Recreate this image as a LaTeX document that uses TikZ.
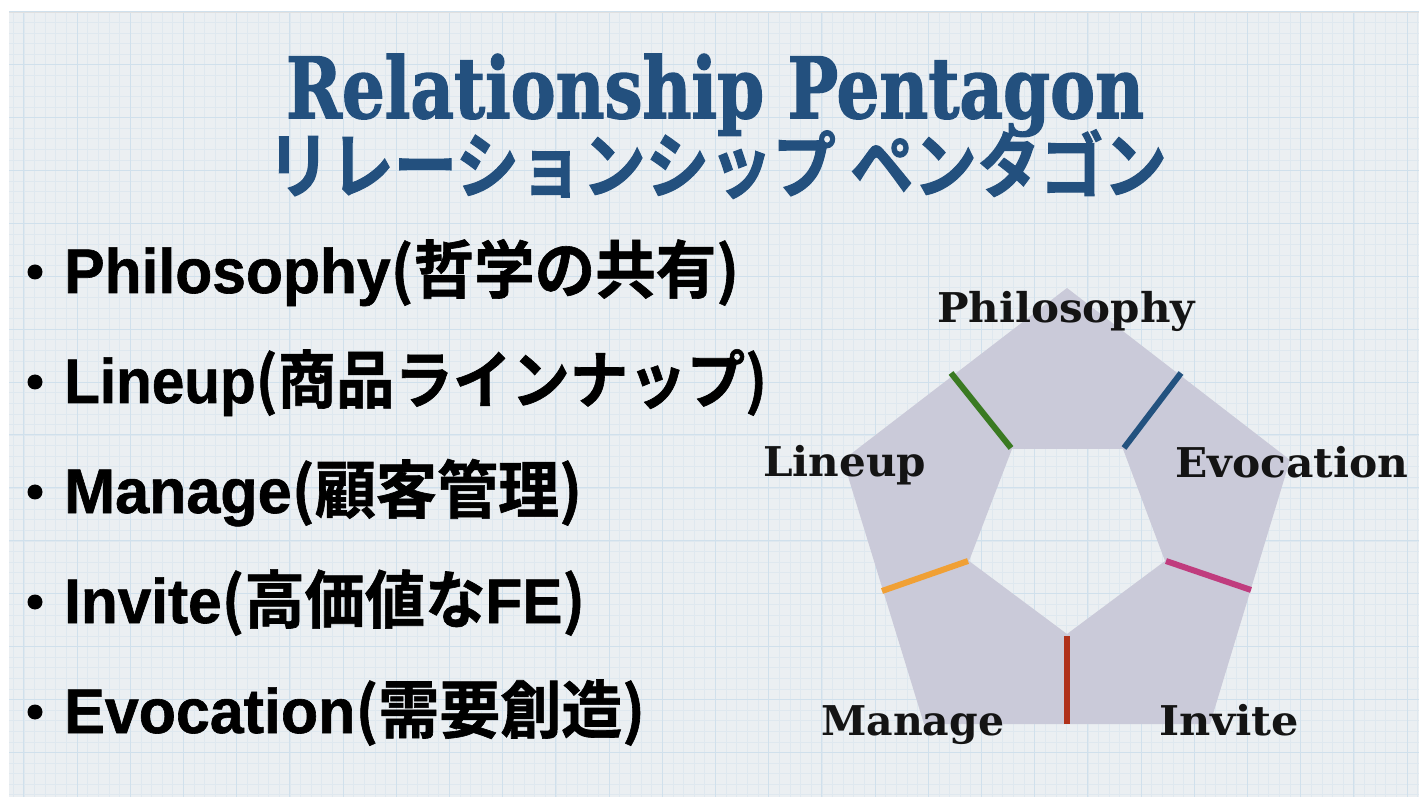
\documentclass[tikz,border=0pt]{standalone}
\usepackage{fontspec}
\usepackage{graphicx}
\setmainfont{Liberation Sans}
\newfontfamily\cjk{Noto Sans CJK JP}[BoldFont={Noto Sans CJK JP Bold}, BoldFeatures={FakeBold=1}]
\newfontfamily\cjkheavy{Noto Sans CJK JP Bold}[FakeBold=1.6]
\newfontfamily\bullatin{Liberation Sans Bold}[FakeBold=1]
\newfontfamily\titleslab{DejaVu Serif Bold}[FakeBold=1.8]
\newfontfamily\slabfont{DejaVu Serif}
\newcommand\fitto[2]{\resizebox{#1}{\height}{#2}}
\newcommand\fitbox[3]{\resizebox{#1}{#2}{#3}}
\definecolor{bgpaper}{HTML}{EBEFF2}
\definecolor{gridminor}{HTML}{DFE8EF}
\definecolor{gridmajor}{HTML}{D0E0EC}
\definecolor{titleblue}{HTML}{23507E}
\definecolor{pentfill}{HTML}{CACAD9}
\definecolor{segGreen}{HTML}{3A7A22}
\definecolor{segBlue}{HTML}{23527F}
\definecolor{segOrange}{HTML}{F0A035}
\definecolor{segMagenta}{HTML}{C03C7E}
\definecolor{segRed}{HTML}{B0311A}
\tikzset{
  bulletline/.style={anchor=base west, inner sep=0pt, font=\bullatin\fontsize{63}{63}\selectfont, text=black},
  pentlabel/.style={anchor=base west, inner sep=0pt, font=\slabfont\bfseries\fontsize{41}{41}\selectfont, text=black!92},
  segline/.style={line width=6pt},
}
\begin{document}
\begin{tikzpicture}[x=1pt,y=-1pt]
\useasboundingbox (0,0) rectangle (1428,799);
\fill[white] (0,0) rectangle (1428,799);
\fill[bgpaper] (9,12) rectangle (1419,797);
\begin{scope}
\clip (9,12) rectangle (1419,797);
\foreach \xx in {2.52,13.16,...,1425} \draw[gridminor, line width=0.6pt] (\xx,12) -- (\xx,797);
\foreach \yy in {1.22,11.8,...,800} \draw[gridminor, line width=0.6pt] (9,\yy) -- (1419,\yy);
\foreach \xx in {23.8,77,...,1425} \draw[gridmajor, line width=1pt] (\xx,12) -- (\xx,797);
\foreach \yy in {11.8,64.7,...,800} \draw[gridmajor, line width=1pt] (9,\yy) -- (1419,\yy);
\end{scope}
\draw[black!12, line width=1pt] (9,12.5) -- (1419,12.5);

% title
\node[anchor=base, inner sep=0pt, text=titleblue] (title) at (715,118)
  {\fitbox{858pt}{64pt}{\titleslab\fontsize{72}{72}\selectfont Relationship Pentagon}};
\node[anchor=base, inner sep=0pt, text=titleblue] (subtitle) at (717,192)
  {\fitto{900pt}{\cjkheavy\fontsize{72}{72}\selectfont リレーションシップ ペンタゴン}};

% bullets
\foreach \yy/\nm in {293/b1,403/b2,513/b3,623/b4,733/b5}
  \fill (35,\yy-21) circle (7.5);
\node[bulletline] (l1) at (64,293) {\fitto{675pt}{Philosophy{\cjk\bfseries(哲学の共有)}}};
\node[bulletline] (l2) at (64,403) {\fitto{703pt}{Lineup{\cjk\bfseries(商品ラインナップ)}}};
\node[bulletline] (l3) at (64,513) {\fitto{518pt}{Manage{\cjk\bfseries(顧客管理)}}};
\node[bulletline] (l4) at (64,623) {\fitto{521pt}{Invite{\cjk\bfseries(高価値な}FE{\cjk\bfseries)}}};
\node[bulletline] (l5) at (64,733) {\fitto{581pt}{Evocation{\cjk\bfseries(需要創造)}}};

% pentagon
\coordinate (o1) at (1067,288);
\coordinate (o2) at (1290,460);
\coordinate (o3) at (1210,724);
\coordinate (o4) at (924,724);
\coordinate (o5) at (843,460);
\coordinate (i1) at (1012,449);
\coordinate (i2) at (1123,449);
\coordinate (i3) at (1165,561);
\coordinate (i4) at (1067,634);
\coordinate (i5) at (969,561);
\fill[pentfill, even odd rule] (o1)--(o2)--(o3)--(o4)--(o5)--cycle (i1)--(i2)--(i3)--(i4)--(i5)--cycle;

\coordinate (gA) at (1011,448); \coordinate (gB) at (951,373);
\coordinate (bA) at (1124,448); \coordinate (bB) at (1181,373);
\coordinate (oA) at (968,561);  \coordinate (oB) at (882,591);
\coordinate (mA) at (1166,561); \coordinate (mB) at (1251,590);
\coordinate (rA) at (1067,636); \coordinate (rB) at (1067,724);
\draw[segline, segGreen] (gA) -- (gB);
\draw[segline, segBlue] (bA) -- (bB);
\draw[segline, segOrange] (oA) -- (oB);
\draw[segline, segMagenta] (mA) -- (mB);
\draw[segline, segRed] (rA) -- (rB);

% labels
\node[pentlabel] (lphil) at (937,323) {\fitto{258pt}{Philosophy}};
\node[pentlabel] (lline) at (763,477) {\fitto{163pt}{Lineup}};
\node[pentlabel] (levoc) at (1175,478) {\fitto{233pt}{Evocation}};
\node[pentlabel] (lman) at (821,735) {\fitto{183pt}{Manage}};
\node[pentlabel] (linv) at (1159,735) {\fitto{140pt}{Invite}};
\end{tikzpicture}
\end{document}
